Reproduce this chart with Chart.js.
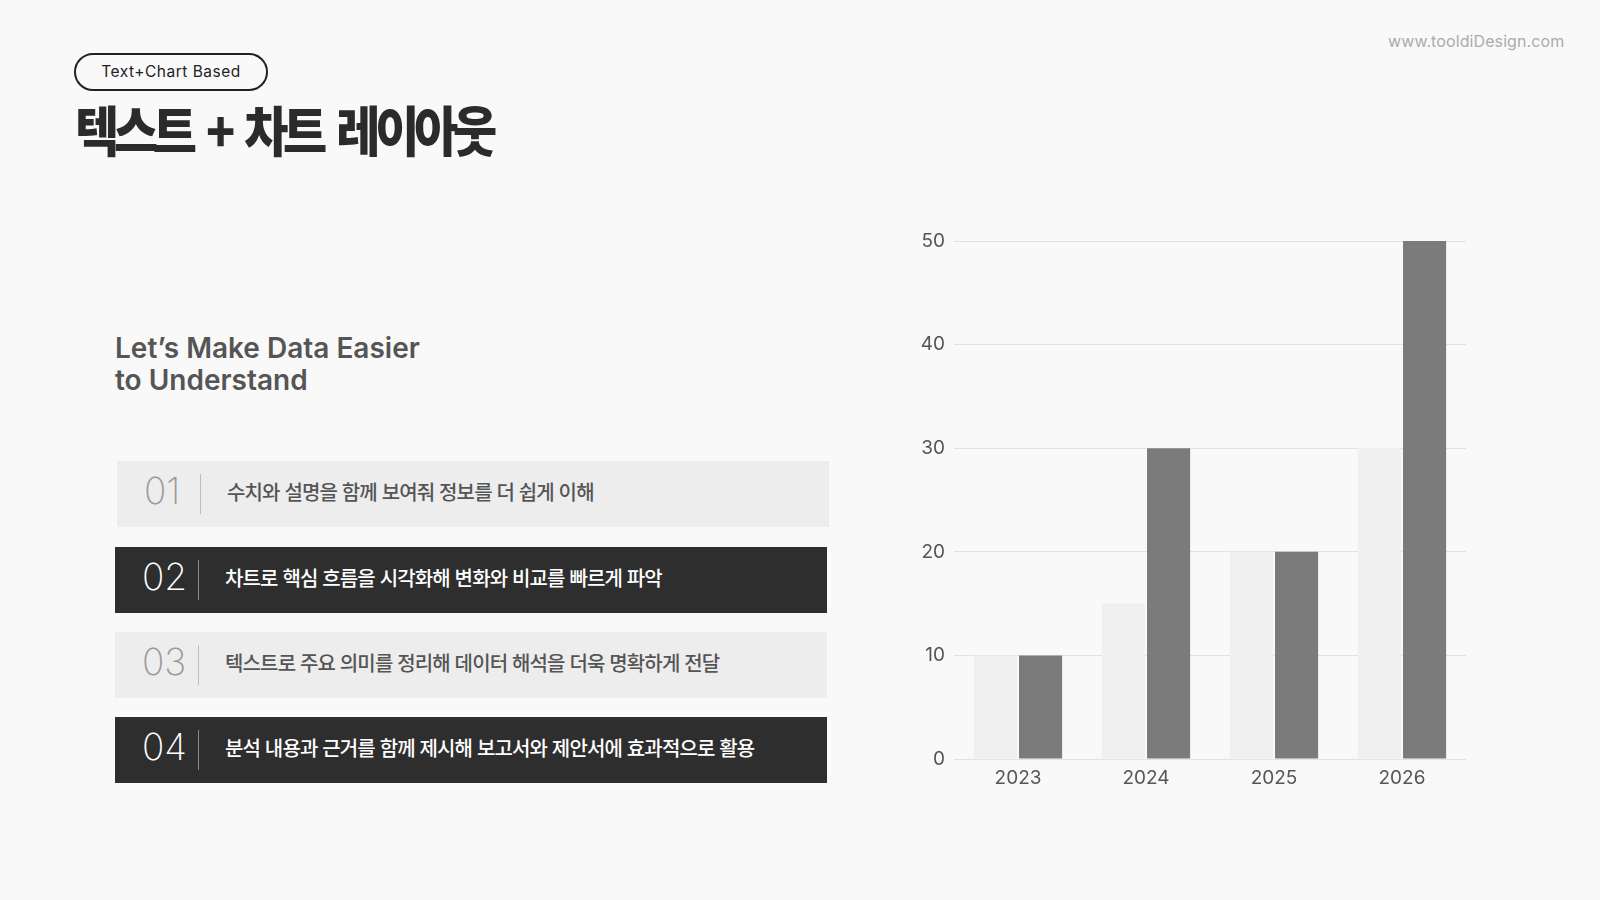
<!DOCTYPE html>
<html lang="ko">
<head>
<meta charset="utf-8">
<title>텍스트 + 차트 레이아웃</title>
<script src="https://cdn.jsdelivr.net/npm/chart.js@4.4.1/dist/chart.umd.min.js"></script>
<style>
  html, body { margin: 0; padding: 0; }
  body {
    width: 1600px; height: 900px; position: relative; overflow: hidden;
    background: #f9f9f9;
    font-family: Inter, "Noto Sans CJK KR", sans-serif;
  }
  .pill {
    position: absolute; left: 74px; top: 53px; width: 190px; height: 34px;
    border: 2px solid #222; border-radius: 20px;
    font-size: 15.5px; color: #222; line-height: 34px; text-align: center;
    letter-spacing: 0.5px;
  }
  .site {
    position: absolute; left: 1388px; top: 31px;
    font-size: 16px; color: #ababab; letter-spacing: 0.1px;
  }
  h1 {
    position: absolute; left: 75px; top: 89px; margin: 0;
    font-family: "Noto Sans CJK KR", sans-serif; font-weight: 900;
    font-size: 54px; color: #2b2b2b; letter-spacing: -6px; word-spacing: 7px;
    line-height: 80px; white-space: nowrap;
    transform: scaleX(0.89); transform-origin: left center;
  }
  .lead {
    position: absolute; left: 115px; top: 332px; margin: 0;
    font-size: 28px; font-weight: 600; color: #555; line-height: 32px;
  }
  .row {
    position: absolute; left: 115px; width: 712px; height: 66px;
  }
  .row.light { background: #ededed; }
  .row.dark { background: #2e2e2e; }
  .row .num {
    position: absolute; left: 27px; top: -3px; line-height: 66px;
    font-size: 37px; font-weight: 200;
  }
  .row .bar {
    position: absolute; left: 83px; top: 13px; width: 1px; height: 40px;
  }
  .row .txt {
    position: absolute; left: 110px; top: -2px; line-height: 66px;
    font-family: "Noto Sans CJK KR", sans-serif; font-size: 20px; font-weight: 500;
    letter-spacing: -0.85px;
  }
  .light .num { color: #9a9a9a; }
  .light .bar { background: #bdbdbd; }
  .light .txt { color: #555; }
  .dark .num { color: #fff; }
  .dark .bar { background: #8a8a8a; }
  .dark .txt { color: #fff; }
  #chart_box {
    position: absolute; left: 900px; top: 220px; width: 566px; height: 581px;
  }
</style>
</head>
<body>
<div class="pill">Text+Chart Based</div>
<div class="site">www.tooldiDesign.com</div>
<h1>텍스트 + 차트 레이아웃</h1>
<p class="lead">Let’s Make Data Easier<br>to Understand</p>
<div id="rows"></div>
<div id="chart_box"><canvas id="barchart"></canvas></div>

<script>
const years = ["2023", "2024", "2025", "2026"];
const seriesLight = [10, 15, 20, 30];
const seriesDark = [10, 30, 20, 50];
const yMin = 0;
const yMax = 50;
const yStep = 10;

const rowNumbers = ["01", "02", "03", "04"];
const rowTexts = [
  "수치와 설명을 함께 보여줘 정보를 더 쉽게 이해",
  "차트로 핵심 흐름을 시각화해 변화와 비교를 빠르게 파악",
  "텍스트로 주요 의미를 정리해 데이터 해석을 더욱 명확하게 전달",
  "분석 내용과 근거를 함께 제시해 보고서와 제안서에 효과적으로 활용",
];
const rowTops = [461, 547, 632, 717];

// list rows on the left
let Rows = document.getElementById("rows");
rowNumbers.forEach((n, i) => {
  let row = document.createElement("div");
  row.className = i % 2 == 0 ? "row light" : "row dark";
  row.style.top = `${rowTops[i]}px`;
  if (i == 0) row.style.left = "117px";
  row.innerHTML = `<span class="num">${n}</span><span class="bar"></span><span class="txt">${rowTexts[i]}</span>`;
  Rows.appendChild(row);
});

Chart.defaults.font.family = "Inter, 'Noto Sans CJK KR', sans-serif";
Chart.defaults.color = "#555";

let the_chart = new Chart(document.getElementById("barchart"), {
  type: "bar",
  data: {
    labels: years,
    datasets: [
      { data: seriesLight, backgroundColor: "#f0f0f0" },
      { data: seriesDark, backgroundColor: "#7b7b7b" },
    ],
  },
  options: {
    responsive: true,
    maintainAspectRatio: false,
    animation: false,
    layout: { padding: { top: 21, right: 0, left: 0, bottom: 0 } },
    datasets: { bar: { categoryPercentage: 0.705, barPercentage: 0.955 } },
    plugins: { legend: { display: false }, tooltip: { enabled: false } },
    scales: {
      x: {
        grid: { display: false },
        border: { display: false },
        ticks: { font: { size: 19 }, padding: 0, color: "#555" },
        afterFit: (scale) => { scale.height = 42; },
      },
      y: {
        min: yMin,
        max: yMax,
        ticks: { stepSize: yStep, font: { size: 19 }, padding: 9, color: "#555" },
        grid: { color: "#e2e2e2", drawTicks: false },
        border: { display: false },
        afterFit: (scale) => { scale.width = 54; },
      },
    },
  },
});
</script>
</body>
</html>
